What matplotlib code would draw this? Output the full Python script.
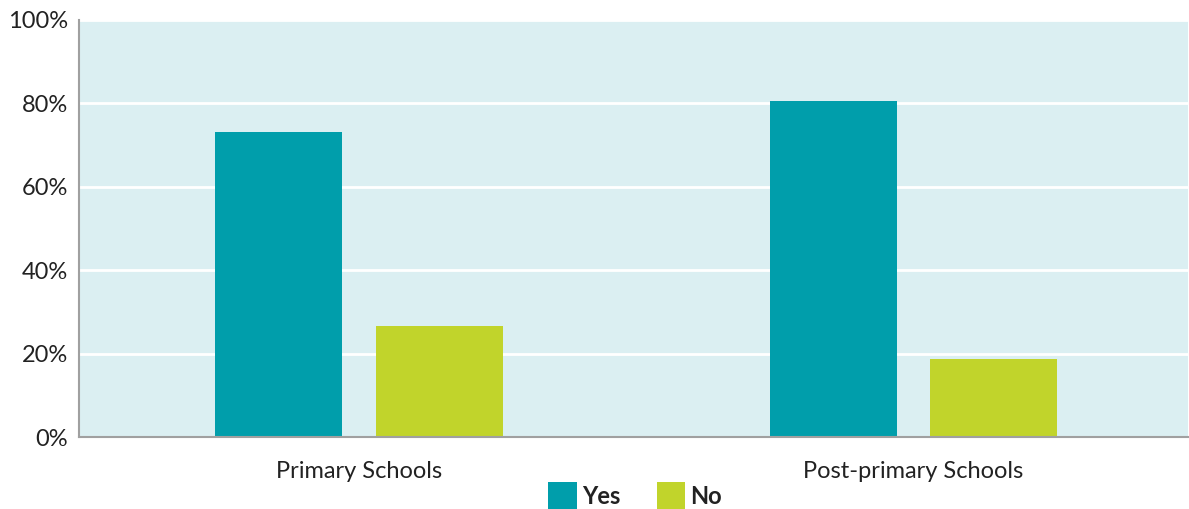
import matplotlib
matplotlib.use("Agg")
import matplotlib.pyplot as plt
import numpy as np
from matplotlib.ticker import PercentFormatter

categories = ["Primary Schools", "Post-primary Schools"]
series_names = ["Yes", "No"]
yes_values = [73.2, 80.6]
no_values = [26.5, 18.8]
y_ticks = [0, 20, 40, 60, 80, 100]

colors = ["#009EAB", "#C1D42B"]

plt.rcParams['font.family'] = ['Lato', 'DejaVu Sans']

fig = plt.figure(figsize=(11.89, 5.09), dpi=100)
ax = fig.add_axes([79/1189, 1-437/509, (1188-79)/1189, (437-20)/509])
ax.set_facecolor("#DBEFF2")

x = np.arange(len(categories))
w = 0.229
off = 0.145
ax.bar(x - off, yes_values, width=w, color=colors[0], label=series_names[0], zorder=3)
ax.bar(x + off, no_values, width=w, color=colors[1], label=series_names[1], zorder=3)

ax.set_xlim(-0.505, 1.495)
ax.set_ylim(0, 100)
ax.set_yticks(y_ticks)
ax.yaxis.set_major_formatter(PercentFormatter(decimals=0))
ax.set_xticks(x)
ax.set_xticklabels(categories)
ax.tick_params(axis='both', length=0, labelsize=17, colors="#222222")
ax.tick_params(axis='x', pad=17)
ax.tick_params(axis='y', pad=8)
ax.grid(axis='y', color='white', linewidth=2, zorder=1)
for s in ['top', 'right']:
    ax.spines[s].set_visible(False)
for s in ['left', 'bottom']:
    ax.spines[s].set_color('#A0A0A0')
    ax.spines[s].set_linewidth(1.5)
    ax.spines[s].set_zorder(4)

handles, labels = ax.get_legend_handles_labels()
leg = fig.legend(handles, labels, loc='center', bbox_to_anchor=(635/1189, 1-496/509), ncol=2,
                 frameon=False, prop={'weight': 'bold', 'size': 17}, handlelength=1.19,
                 handleheight=1.4, handletextpad=0.22, columnspacing=1.55, borderpad=0,
                 borderaxespad=0)
for t in leg.get_texts():
    t.set_color("#222222")

fig.savefig("out.png", dpi=100)
